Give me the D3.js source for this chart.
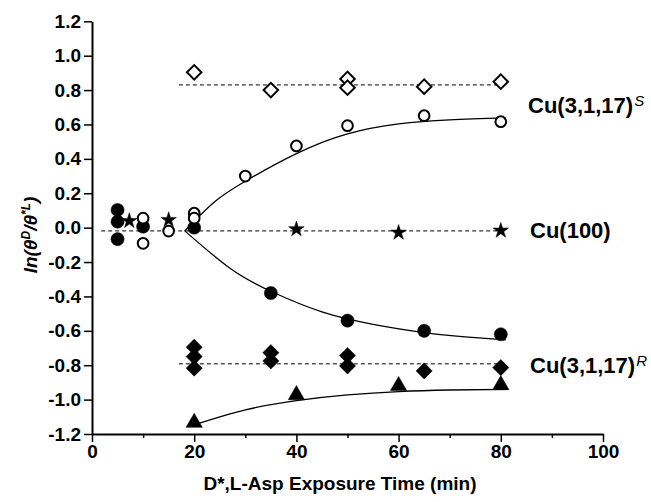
<!DOCTYPE html>
<html>
<head>
<meta charset="utf-8">
<script src="https://cdn.jsdelivr.net/npm/d3@7"></script>
<style>
  body { margin: 0; background: #fff; }
  svg { display: block; }
  text { font-family: "Liberation Sans", Arial, sans-serif; font-weight: bold; fill: #000; }
  .tick text { font-size: 19px; }
  .ref { fill: none; stroke: #000; stroke-width: 1; stroke-dasharray: 4 3; }
  .fit { fill: none; stroke: #000; stroke-width: 1.3; }
</style>
</head>
<body>
<div id="chart"></div>
<script>
// ---- data ----
var xTicks = [0, 20, 40, 60, 80, 100];
var xMinorTicks = [10, 30, 50, 70, 90];
var yTicks = [-1.2, -1.0, -0.8, -0.6, -0.4, -0.2, 0.0, 0.2, 0.4, 0.6, 0.8, 1.0, 1.2];

// Cu(3,1,17)^S  open diamonds, Cu(3,1,17)^R filled diamonds
var openDiamonds = [[20, 0.903], [35, 0.80], [50, 0.865], [50, 0.814], [65, 0.82], [80, 0.849]];
var filledDiamonds = [[20, -0.695], [20, -0.75], [20, -0.817], [35, -0.727], [35, -0.775],
                      [50, -0.744], [50, -0.804], [65, -0.833], [80, -0.814]];
// Cu(100) stars
var stars = [[7.3, 0.039], [15, 0.045], [40, -0.009], [60, -0.029], [80, -0.017]];
var openCircles = [[10, 0.055], [10, -0.091], [15, -0.02], [20, 0.084], [20, 0.055],
                   [30, 0.30], [40, 0.475], [50, 0.593], [65, 0.651], [80, 0.616]];
var filledCircles = [[5, 0.103], [5, 0.035], [5, -0.067], [10, 0.006], [20, 0.0],
                     [35, -0.38], [50, -0.541], [65, -0.60], [80, -0.62]];
var triangles = [[20, -1.134], [40, -0.973], [60, -0.92], [80, -0.915]];

// dashed mean lines
var refS = [[17, 0.83], [81, 0.83]];
var ref100 = [[1.8, -0.019], [81, -0.019]];
var refR = [[17, -0.792], [81, -0.792]];

// fitted curves
var fitUp = [[18.1, -0.02], [24, 0.15], [30, 0.27], [40, 0.43], [50, 0.545],
             [60, 0.603], [70, 0.627], [81, 0.638]];
var fitDown = [[18.2, -0.02], [27, -0.236], [35, -0.37], [45, -0.49], [55, -0.562],
               [65, -0.61], [73, -0.635], [81, -0.653]];
var fitTri = [[20, -1.147], [30, -1.06], [40, -1.006], [50, -0.973], [60, -0.953],
              [70, -0.944], [81.4, -0.94]];

var W = 651, H = 502;

var svg = d3.select("#chart").append("svg")
    .attr("width", W)
    .attr("height", H);

var x = d3.scaleLinear().domain([0, 100]).range([92, 603]);
var y = d3.scaleLinear().domain([-1.2, 1.2]).range([434, 21.3]);

var fmt = function(d) { return d3.format(".1f")(d).replace("\u2212", "-"); };

// y axis
svg.append("g")
    .attr("transform", "translate(" + x(0) + ",0)")
    .call(d3.axisLeft(y).tickValues(yTicks).tickFormat(fmt).tickSize(8).tickSizeOuter(0).tickPadding(3));

// x axis, major + minor ticks
svg.append("g")
    .attr("transform", "translate(0," + y(-1.2) + ")")
    .call(d3.axisBottom(x).tickValues(xTicks).tickFormat(d3.format("d")).tickSize(8).tickSizeOuter(0).tickPadding(3));
svg.append("g")
    .attr("transform", "translate(0," + y(-1.2) + ")")
    .call(d3.axisBottom(x).tickValues(xMinorTicks).tickFormat("").tickSize(4).tickSizeOuter(0))
    .select(".domain").remove();

svg.selectAll(".domain").attr("stroke-width", 2);
svg.selectAll(".tick line").attr("stroke-width", 1.5);

var line = d3.line()
    .x(function(d) { return x(d[0]); })
    .y(function(d) { return y(d[1]); });

[refS, ref100, refR].forEach(function(r) {
    svg.append("path").attr("class", "ref").attr("d", line(r));
});

var smooth = d3.line()
    .x(function(d) { return x(d[0]); })
    .y(function(d) { return y(d[1]); })
    .curve(d3.curveNatural);

[fitUp, fitDown, fitTri].forEach(function(f) {
    svg.append("path").attr("class", "fit").attr("d", smooth(f));
});

function plot(data, type, size, filled, rot) {
    svg.append("g").selectAll("path")
        .data(data)
        .enter().append("path")
        .attr("d", d3.symbol().type(type).size(size))
        .attr("transform", function(d) {
            return "translate(" + x(d[0]) + "," + y(d[1]) + ")" + (rot ? " rotate(" + rot + ")" : "");
        })
        .attr("fill", filled ? "#000" : "#fff")
        .attr("stroke", "#000")
        .attr("stroke-width", filled ? 0.5 : 2);
}

plot(openDiamonds, d3.symbolSquare, 105, false, 45);
plot(filledDiamonds, d3.symbolSquare, 130, true, 45);
plot(filledCircles, d3.symbolCircle, 135, true);
plot(openCircles, d3.symbolCircle, 90, false);
plot(stars, d3.symbolStar, 75, true);
plot(triangles, d3.symbolTriangle, 115, true);

// series labels
function label(tx, ty, main, sup) {
    var t = svg.append("text")
        .attr("x", tx)
        .attr("y", ty)
        .style("font-size", "22px")
        .text(main);
    if (sup) {
        t.append("tspan")
            .attr("dx", 1)
            .attr("dy", -7)
            .style("font-size", "15px")
            .style("font-style", "italic")
            .style("font-weight", "normal")
            .text(sup);
    }
}
label(528, 112.7, "Cu(3,1,17)", "S");
label(530, 237.7, "Cu(100)");
label(530, 373.3, "Cu(3,1,17)", "R");

// axis titles
svg.append("text")
    .attr("x", 340)
    .attr("y", 490)
    .attr("text-anchor", "middle")
    .style("font-size", "19px")
    .text("D*,L-Asp Exposure Time (min)");

var yt = svg.append("text")
    .attr("transform", "translate(37,235) rotate(-90)")
    .attr("text-anchor", "middle")
    .style("font-size", "19px")
    .style("font-style", "italic");
yt.append("tspan").text("ln(\u03b8");
yt.append("tspan").attr("dy", -7).style("font-size", "12px").text("D");
yt.append("tspan").attr("dy", 7).text("/\u03b8");
yt.append("tspan").attr("dy", -7).style("font-size", "12px").text("*L");
yt.append("tspan").attr("dy", 7).text(")");
</script>
</body>
</html>
